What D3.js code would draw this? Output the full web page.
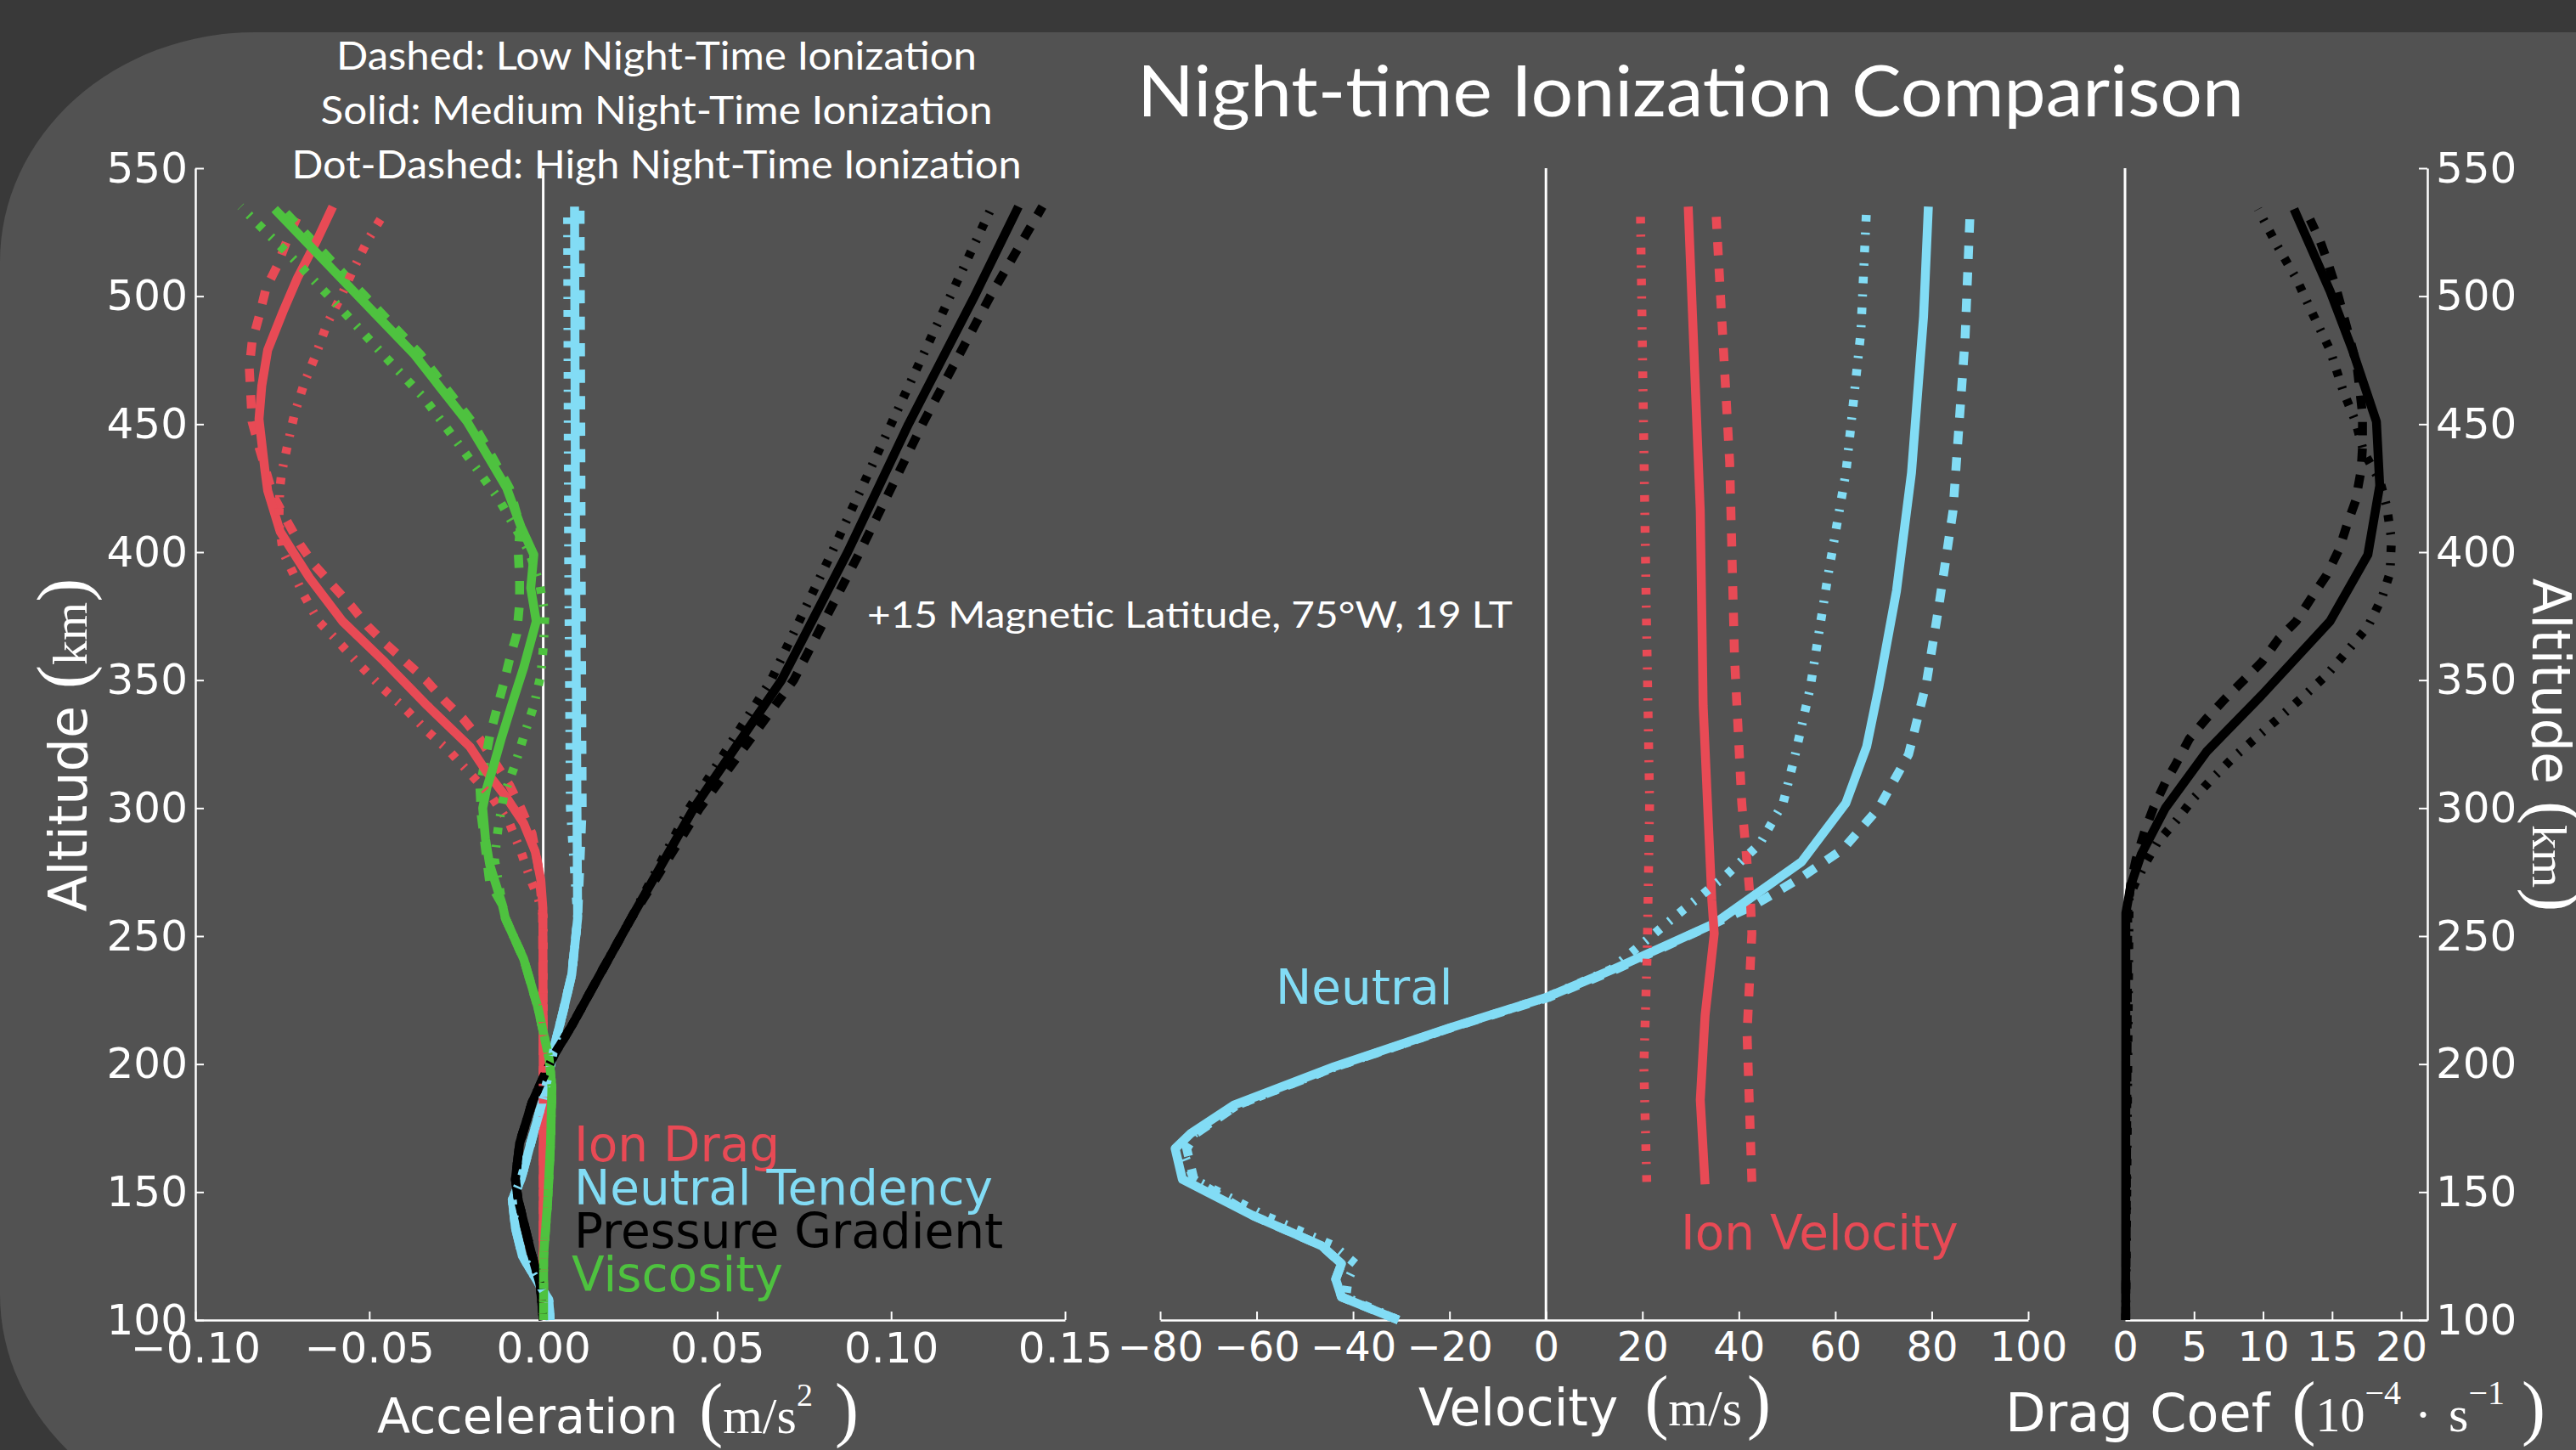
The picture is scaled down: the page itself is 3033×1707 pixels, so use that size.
<!DOCTYPE html>
<html>
<head>
<meta charset="utf-8">
<script src="https://cdn.jsdelivr.net/npm/d3@7"></script>
<style>
  html, body { margin: 0; padding: 0; background: #393939; }
  svg { display: block; }
</style>
</head>
<body>
<svg id="svg" width="3033" height="1707"></svg>
<script>
// TICKS
const altTicks = [100, 150, 200, 250, 300, 350, 400, 450, 500, 550];
const accTicks = [-0.10, -0.05, 0.00, 0.05, 0.10, 0.15];
const velTicks = [-80, -60, -40, -20, 0, 20, 40, 60, 80, 100];
const dragTicks = [0, 5, 10, 15, 20];

// ACCELERATION (m/s^2) as [altitude km, value]
// Low = dashed, Med = solid, High = dot-dashed
const ionDragLow = [[100,0],[200,0],[260,-0.0002],[278,-0.0015],[290,-0.0032],[300,-0.0064],[309,-0.0097],[327,-0.0182],[335,-0.0231],[342,-0.0284],[350,-0.0337],[357,-0.0394],[364,-0.0451],[371,-0.0504],[379,-0.0552],[387,-0.0605],[395,-0.0658],[403,-0.0699],[413,-0.0740],[422,-0.0776],[441,-0.0817],[451,-0.0837],[462,-0.0841],[472,-0.0845],[482,-0.0837],[492,-0.0817],[503,-0.0797],[512,-0.0764],[522,-0.0736],[531,-0.0707]];
const ionDragMed = [[100,0],[200,0],[261,-0.0001],[272,-0.0007],[283,-0.0023],[294,-0.0056],[304,-0.0105],[314,-0.0162],[324,-0.0211],[340,-0.0333],[357,-0.0455],[373,-0.0577],[390,-0.0672],[400,-0.0719],[408,-0.0756],[424,-0.0792],[432,-0.0800],[452,-0.0817],[465,-0.0809],[479,-0.0792],[494,-0.0748],[507,-0.0707],[522,-0.0650],[535,-0.0605]];
const ionDragHigh = [[100,0],[200,0],[258,0],[265,-0.0015],[272,-0.0036],[283,-0.0064],[294,-0.0097],[304,-0.0146],[313,-0.0207],[322,-0.0268],[330,-0.0333],[339,-0.0398],[347,-0.0463],[356,-0.0528],[365,-0.0589],[373,-0.0646],[384,-0.0691],[400,-0.0748],[412,-0.0760],[425,-0.0757],[431,-0.0752],[443,-0.0733],[454,-0.0715],[466,-0.0687],[477,-0.0654],[489,-0.0622],[500,-0.0581],[511,-0.0544],[522,-0.0504],[532,-0.0459]];

const viscLower = [[100,0.0001],[125,0.0001],[147,0.0013],[169,0.0021],[191,0.0025],[202,0.0017],[222,-0.0015],[241,-0.0056],[257,-0.0109],[262,-0.0117]];
const viscLow = viscLower.concat([[271,-0.0154],[297,-0.0178],[308,-0.0182],[328,-0.0154],[339,-0.0133],[349,-0.0113],[358,-0.0097],[368,-0.0076],[380,-0.0068],[390,-0.0068],[400,-0.0072],[410,-0.0066],[425,-0.0097],[440,-0.0158],[451,-0.0205],[465,-0.0285],[477,-0.0352],[494,-0.0470],[506,-0.0555],[524,-0.0680],[534,-0.0750]]);
const viscMed = viscLower.concat([[278,-0.0154],[288,-0.0166],[300,-0.0174],[308,-0.0162],[315,-0.0146],[327,-0.0121],[341,-0.0089],[355,-0.0056],[373,-0.0020],[386,-0.0036],[399,-0.0027],[410,-0.0064],[425,-0.0105],[440,-0.0170],[451,-0.0219],[465,-0.0300],[477,-0.0369],[494,-0.0489],[506,-0.0574],[524,-0.0701],[534,-0.0772]]);
const viscHigh = viscLower.concat([[280,-0.0140],[293,-0.0129],[305,-0.0113],[317,-0.0081],[328,-0.0056],[340,-0.0027],[352,-0.0007],[364,0.0001],[376,0.0005],[388,-0.0011],[400,-0.0040],[421,-0.0129],[440,-0.0231],[460,-0.0341],[477,-0.0459],[495,-0.0581],[513,-0.0707],[530,-0.0833],[535,-0.0870]]);

const tendLower = [[100,0.0020],[108,0.0016],[114,-0.0012],[125,-0.0060],[136,-0.0080],[147,-0.0089],[155,-0.0064],[169,-0.0036],[185,-0.0003],[200,0.0022],[208,0.0034],[221,0.0058],[235,0.0082],[257,0.0099]];
const tendLow = tendLower.concat([[300,0.0112],[400,0.0109],[535,0.0106]]);
const tendMed = tendLower.concat([[300,0.0097],[400,0.0093],[535,0.0090]]);
const tendHigh = tendLower.concat([[300,0.0078],[400,0.0073],[535,0.0070]]);

const pressLower = [[100,0],[114,-0.0009],[125,-0.0032],[136,-0.0052],[147,-0.0072],[155,-0.0080],[169,-0.0068],[185,-0.0032],[195,0.0001],[204,0.0033],[215,0.0082],[235,0.0163],[257,0.0253]];
const pressLow = pressLower.concat([[300,0.0450],[350,0.0720],[400,0.0910],[450,0.1090],[500,0.1285],[535,0.1435]]);
const pressMed = pressLower.concat([[300,0.0433],[350,0.0685],[400,0.0875],[450,0.1050],[500,0.1240],[535,0.1366]]);
const pressHigh = pressLower.concat([[300,0.0420],[350,0.0655],[400,0.0830],[450,0.1000],[500,0.1170],[535,0.1290]]);

// VELOCITY (m/s)
const neutralLow = [[100,-30.6],[109,-42.4],[116,-43.6],[122,-42.4],[129,-46.5],[141,-61.0],[155,-73.0],[167,-74.5],[173,-72.5],[184,-64.0],[199,-43.5],[214,-20.0],[226,0.5],[237,14.5],[262,43.1],[273,53.0],[284,61.6],[300,69.0],[321,75.2],[349,78.9],[378,81.4],[416,84.4],[483,86.9],[535,88.0]];
const neutralMed = [[100,-30.6],[109,-42.4],[116,-43.6],[122,-42.4],[129,-46.5],[141,-61.0],[155,-75.4],[167,-76.9],[173,-73.6],[184,-64.7],[199,-43.9],[214,-20.2],[226,0.0],[237,13.9],[255,35.0],[279,53.0],[302,62.2],[324,66.5],[347,69.0],[385,72.7],[431,75.8],[492,78.3],[535,79.3]];
const neutralHigh = [[100,-30.6],[109,-41.5],[116,-41.0],[122,-39.5],[129,-44.0],[141,-58.5],[155,-73.0],[167,-75.5],[173,-72.8],[184,-64.0],[199,-43.5],[214,-20.0],[226,0.0],[237,13.5],[258,27.0],[273,36.9],[286,44.3],[302,49.2],[321,51.7],[347,54.8],[391,58.5],[431,62.2],[486,65.3],[535,66.5]];
const ionVelLow = [[154,42.7],[212,41.7],[251,42.7],[264,42.4],[302,40.6],[359,39.1],[435,38.1],[531,35.3]];
const ionVelMed = [[153,33.0],[186,32.0],[219,33.0],[251,34.9],[264,34.4],[340,32.6],[416,32.0],[535,29.5]];
const ionVelHigh = [[154,20.9],[199,20.3],[244,21.0],[302,21.5],[378,20.8],[454,20.2],[532,19.6]];

// DRAG COEF (1e-4 s^-1)
const dragLow = [[100,0.05],[260,0.20],[271,0.43],[280,0.80],[291,1.43],[300,2.05],[310,2.92],[317,3.66],[327,4.65],[335,5.90],[343,7.30],[350,8.60],[357,9.90],[366,11.10],[373,12.40],[383,13.60],[391,14.60],[401,15.50],[411,16.10],[420,16.70],[432,17.10],[441,17.20],[454,17.20],[473,16.80],[503,15.30],[513,14.70],[522,14.10],[530,13.40]];
const dragMed = [[100,0.05],[259,0.06],[270,0.43],[282,1.18],[300,2.92],[322,5.90],[344,9.88],[373,14.85],[399,17.59],[426,18.45],[451,18.21],[479,16.47],[502,14.85],[534,12.24]];
const dragHigh = [[100,0.05],[265,0.30],[270,0.68],[278,1.43],[287,2.40],[295,3.70],[304,5.00],[312,6.40],[320,7.90],[328,9.60],[335,11.10],[344,13.00],[352,14.60],[362,16.20],[371,17.60],[382,18.60],[392,19.20],[405,19.30],[418,18.95],[428,18.45],[439,17.30],[451,16.70],[463,15.80],[479,14.85],[493,13.60],[507,12.40],[519,11.10],[534,9.63]];

// STYLE
const RED = "#e84a55", CYAN = "#82dcf5", GREEN = "#4ec23f", BLACK = "#000";
const DASH = { low: "15.6,15.6", med: null, high: "7.8,13,2.6,13" };
const SANS = "DejaVu Sans", SERIF = "Liberation Serif", PPT = "Lato";

const svg = d3.select("#svg");

// background + rounded panel
svg.append("rect").attr("width", 3033).attr("height", 1707).attr("fill", "#393939");
svg.append("rect")
  .attr("x", 0).attr("y", 38)
  .attr("width", 3500).attr("height", 1756)
  .attr("rx", 300).attr("ry", 270)
  .attr("fill", "#525252");

// SCALES
const yAlt = d3.scaleLinear().domain([100, 550]).range([1554, 198]);
const xAcc = d3.scaleLinear().domain([-0.10, 0.15]).range([230, 1254]);
const xVel = d3.scaleLinear().domain([-80, 100]).range([1366, 2388]);
const xDrag = d3.scaleLinear().domain([0, 21.9]).range([2502, 2858]);

function styleAxis(g, size) {
  g.attr("font-family", SANS).attr("font-size", size);
  g.selectAll(".domain").attr("stroke", "#fff").attr("stroke-width", 2.5);
  g.selectAll(".tick line").attr("stroke", "#fff").attr("stroke-width", 2);
  g.selectAll(".tick text").attr("fill", "#fff");
}

// zero lines
[xAcc(0), xVel(0), xDrag(0)].forEach(x => {
  svg.append("line")
    .attr("x1", x).attr("x2", x)
    .attr("y1", yAlt(550)).attr("y2", yAlt(100))
    .attr("stroke", "#fff").attr("stroke-width", 3);
});

// AXES
svg.append("g")
  .attr("transform", `translate(0,${yAlt(100)})`)
  .call(d3.axisBottom(xAcc).tickValues(accTicks).tickFormat(d3.format(".2f"))
    .tickSize(-10).tickSizeOuter(0).tickPadding(14))
  .call(g => styleAxis(g, 50));

svg.append("g")
  .attr("transform", `translate(0,${yAlt(100)})`)
  .call(d3.axisBottom(xVel).tickValues(velTicks).tickFormat(d3.format("d"))
    .tickSize(-10).tickSizeOuter(0).tickPadding(14))
  .call(g => styleAxis(g, 48));

svg.append("g")
  .attr("transform", `translate(0,${yAlt(100)})`)
  .call(d3.axisBottom(xDrag).tickValues(dragTicks).tickFormat(d3.format("d"))
    .tickSize(-10).tickSizeOuter(0).tickPadding(14))
  .call(g => styleAxis(g, 48));

svg.append("g")
  .attr("transform", `translate(${xAcc(-0.10)},0)`)
  .call(d3.axisLeft(yAlt).tickValues(altTicks).tickSize(-10).tickSizeOuter(0).tickPadding(9))
  .call(g => styleAxis(g, 50));

svg.append("g")
  .attr("transform", `translate(${xDrag.range()[1]},0)`)
  .call(d3.axisRight(yAlt).tickValues(altTicks).tickSize(-10).tickSizeOuter(0).tickPadding(10))
  .call(g => styleAxis(g, 50));

// CURVES
const series = [
  { data: ionDragLow, x: xAcc, color: RED, dash: DASH.low },
  { data: tendLow, x: xAcc, color: CYAN, dash: DASH.low },
  { data: pressLow, x: xAcc, color: BLACK, dash: DASH.low },
  { data: viscLow, x: xAcc, color: GREEN, dash: DASH.low },
  { data: ionDragMed, x: xAcc, color: RED, dash: DASH.med },
  { data: tendMed, x: xAcc, color: CYAN, dash: DASH.med },
  { data: pressMed, x: xAcc, color: BLACK, dash: DASH.med },
  { data: viscMed, x: xAcc, color: GREEN, dash: DASH.med },
  { data: ionDragHigh, x: xAcc, color: RED, dash: DASH.high },
  { data: tendHigh, x: xAcc, color: CYAN, dash: DASH.high },
  { data: pressHigh, x: xAcc, color: BLACK, dash: DASH.high },
  { data: viscHigh, x: xAcc, color: GREEN, dash: DASH.high },

  { data: neutralLow, x: xVel, color: CYAN, dash: DASH.low },
  { data: ionVelLow, x: xVel, color: RED, dash: DASH.low },
  { data: neutralMed, x: xVel, color: CYAN, dash: DASH.med },
  { data: ionVelMed, x: xVel, color: RED, dash: DASH.med },
  { data: neutralHigh, x: xVel, color: CYAN, dash: DASH.high },
  { data: ionVelHigh, x: xVel, color: RED, dash: DASH.high },

  { data: dragLow, x: xDrag, color: BLACK, dash: DASH.low },
  { data: dragMed, x: xDrag, color: BLACK, dash: DASH.med },
  { data: dragHigh, x: xDrag, color: BLACK, dash: DASH.high }
];

svg.append("g")
  .selectAll("path")
  .data(series)
  .enter()
  .append("path")
  .attr("d", s => d3.line().x(d => s.x(d[1])).y(d => yAlt(d[0]))(s.data))
  .attr("fill", "none")
  .attr("stroke", s => s.color)
  .attr("stroke-width", 10.5)
  .attr("stroke-linejoin", "round")
  .attr("stroke-dasharray", s => s.dash);

// LEGEND TEXT IN PLOTS
const plotText = [
  { t: "Ion Drag", x: 676, y: 1367, c: RED },
  { t: "Neutral Tendency", x: 676, y: 1418, c: CYAN },
  { t: "Pressure Gradient", x: 676, y: 1469, c: BLACK },
  { t: "Viscosity", x: 673, y: 1520, c: GREEN },
  { t: "Neutral", x: 1502, y: 1182, c: CYAN },
  { t: "Ion Velocity", x: 1979, y: 1471, c: RED }
];
svg.append("g")
  .attr("font-family", SANS).attr("font-size", 56.5)
  .selectAll("text")
  .data(plotText)
  .enter()
  .append("text")
  .attr("x", d => d.x).attr("y", d => d.y)
  .attr("fill", d => d.c)
  .text(d => d.t);

// SLIDE TEXT
function slideText(t, x, y, size, len, anchor) {
  svg.append("text")
    .attr("x", x).attr("y", y)
    .attr("font-family", PPT).attr("font-size", size)
    .attr("fill", "#fff")
    .attr("text-anchor", anchor)
    .attr("textLength", len).attr("lengthAdjust", "spacingAndGlyphs")
    .text(t);
}
slideText("Night-time Ionization Comparison", 1339, 137, 84, 1303, "start");
slideText("Dashed: Low Night-Time Ionization", 773, 82, 46, 754, "middle");
slideText("Solid: Medium Night-Time Ionization", 773, 146, 46, 791, "middle");
slideText("Dot-Dashed: High Night-Time Ionization", 773, 210, 46, 859, "middle");
slideText("+15 Magnetic Latitude, 75°W, 19 LT", 1021, 739, 43, 760, "start");

// AXIS LABELS (mixed text + math)
function label(x, y, parts, transform) {
  const t = svg.append("text").attr("x", x).attr("y", y).attr("fill", "#fff");
  if (transform) t.attr("transform", transform).attr("text-anchor", "middle");
  parts.forEach(p => {
    const s = t.append("tspan")
      .attr("font-family", p.f || SERIF)
      .attr("font-size", p.s)
      .text(p.t);
    if (p.dx) s.attr("dx", p.dx);
    if (p.dy) s.attr("dy", p.dy);
  });
}

label(444, 1687, [
  { t: "Acceleration", f: SANS, s: 57 },
  { t: "(", s: 84, dx: 25 },
  { t: "m/s", s: 60 },
  { t: "2", s: 38, dy: -32 },
  { t: ")", s: 84, dx: 26, dy: 32 }
]);

label(1670, 1678, [
  { t: "Velocity", f: SANS, s: 60 },
  { t: "(", s: 84, dx: 31 },
  { t: "m/s", s: 60 },
  { t: ")", s: 84, dx: 6 }
]);

label(2361, 1685, [
  { t: "Drag Coef", f: SANS, s: 62 },
  { t: "(", s: 84, dx: 26 },
  { t: "10", s: 58 },
  { t: "\u22124", s: 40, dy: -32 },
  { t: "\u00b7", s: 60, dx: 16, dy: 32 },
  { t: "s", s: 60, dx: 20 },
  { t: "\u22121", s: 40, dy: -32 },
  { t: ")", s: 84, dx: 20, dy: 32 }
]);

const altParts = [
  { t: "Altitude", f: SANS, s: 62 },
  { t: "(", s: 84, dx: 20 },
  { t: "km", s: 58 },
  { t: ")", s: 84 }
];
label(0, 0, altParts, "translate(102,877) rotate(-90)");
label(0, 0, altParts, "translate(2982,877) rotate(90)");
</script>
</body>
</html>
